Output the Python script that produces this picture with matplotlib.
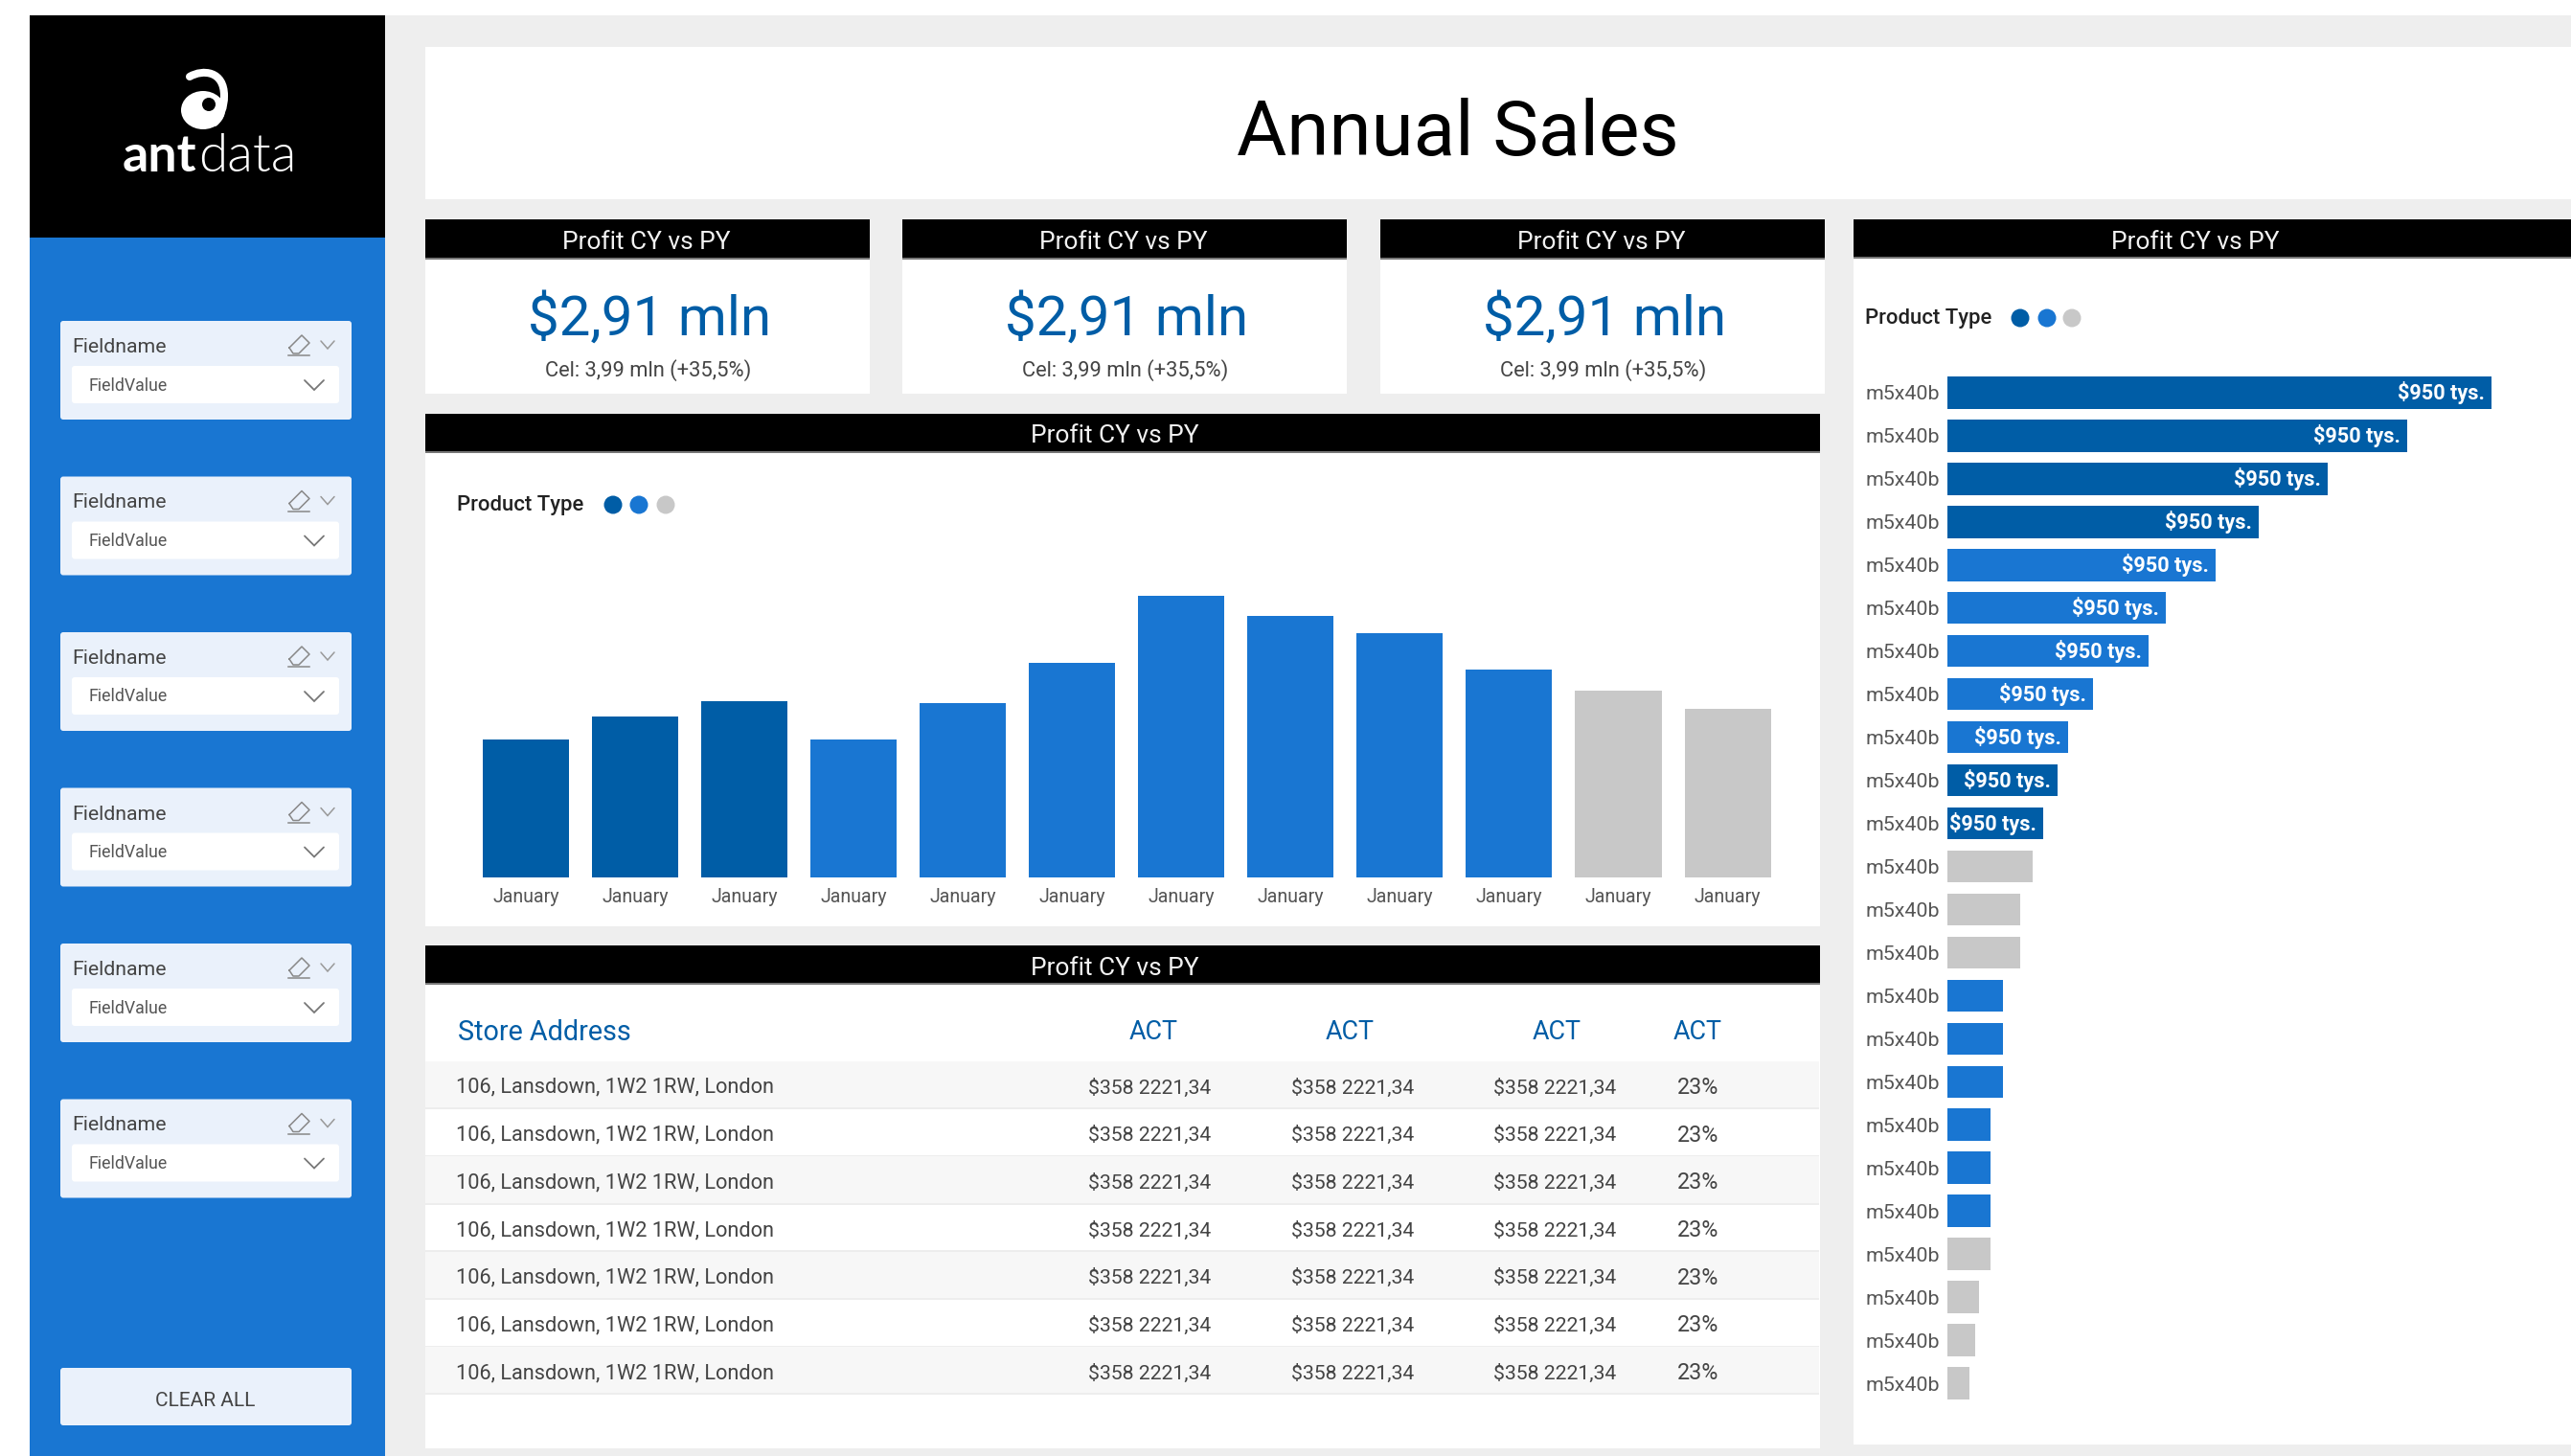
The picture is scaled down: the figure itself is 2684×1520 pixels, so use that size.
import matplotlib
matplotlib.use("Agg")
import matplotlib.pyplot as plt
from matplotlib.patches import Rectangle, FancyBboxPatch, Circle, Ellipse, PathPatch
from matplotlib.path import Path
from matplotlib.textpath import TextPath
from matplotlib.font_manager import FontProperties

# ---------- data ----------
title = "Annual Sales"
panel_title = "Profit CY vs PY"
kpi_value = "$2,91 mln"
kpi_target = "Cel: 3,99 mln (+35,5%)"
legend_title = "Product Type"
slicer_name = "Fieldname"
slicer_value = "FieldValue"

month_labels = ["January"] * 12
month_values = [144, 168, 184, 144, 182, 224, 294, 273, 255, 217, 195, 176]
month_types = ["A", "A", "A", "B", "B", "B", "B", "B", "B", "B", "C", "C"]

sku_labels = ["m5x40b"] * 24
sku_values = [568, 480, 397, 325, 280, 228, 210, 152, 126, 115, 100, 89,
              76, 76, 58, 58, 58, 45, 45, 45, 45, 33, 29, 23]
sku_types = ["A", "A", "A", "A", "B", "B", "B", "B", "B", "A", "A", "C",
             "C", "C", "B", "B", "B", "B", "B", "B", "C", "C", "C", "C"]
sku_value_labels = ["$950 tys."] * 11

table_columns = ["Store Address", "ACT", "ACT", "ACT", "ACT"]
table_address = ["106, Lansdown, 1W2 1RW, London"] * 7
table_act1 = ["$358 2221,34"] * 7
table_act2 = ["$358 2221,34"] * 7
table_act3 = ["$358 2221,34"] * 7
table_pct = ["23%"] * 7

# ---------- style ----------
W, H = 2684, 1520
DPI = 100
BLUE = "#1976D2"
DARK = "#005DA6"
GREY = "#C8C8C8"
BG = "#EEEEEE"
CARD = "#EAF1FB"
TYPE_COLORS = {"A": DARK, "B": BLUE, "C": GREY}
FONT = "Roboto"

plt.rcParams["font.family"] = [FONT, "DejaVu Sans"]


def fit(s, width_px, weight="normal", family=FONT):
    """Font size in points that makes s about width_px wide."""
    fp = FontProperties(family=family, weight=weight)
    w = TextPath((0, 0), s, size=100, prop=fp).get_extents().width
    return 100 * (width_px * 72 / DPI) / w


fig = plt.figure(figsize=(W / DPI, H / DPI), dpi=DPI, facecolor="white")
bg = fig.add_axes([0, 0, 1, 1])
bg.set_xlim(0, W)
bg.set_ylim(H, 0)
bg.axis("off")


def rect(x0, y0, x1, y1, color, z=1):
    bg.add_patch(Rectangle((x0, y0), x1 - x0, y1 - y0, fc=color, ec="none", zorder=z))


def rrect(x0, y0, x1, y1, color, r=3, z=3):
    bg.add_patch(FancyBboxPatch((x0, y0), x1 - x0, y1 - y0,
                                boxstyle=f"round,pad=0,rounding_size={r}",
                                fc=color, ec="none", zorder=z))


def txt(x, y, s, size, color="#333333", ha="center", va="center", weight="normal", **kw):
    bg.text(x, y + 2.5, s, fontsize=size, color=color, ha=ha, va=va, weight=weight, zorder=6, **kw)


def header(x0, x1, y0, y1, cx):
    rect(x0, y0, x1, y1, "black", z=2)
    rect(x0, y1 - 1.5, x1, y1 + 0.5, "#777777", z=2)
    txt(cx, (y0 + y1) / 2 + 1, panel_title, HEAD_SIZE, color="#F2F2F2")


def legend(xt, y, dots):
    txt(xt, y - 2, legend_title, LEG_SIZE, color="#222222", ha="left", weight="medium")
    for cx, k in zip(dots, ["A", "B", "C"]):
        bg.add_patch(Ellipse((cx, y), 19, 19, fc=TYPE_COLORS[k], ec="none", zorder=5))


def chevron(cx, cy, hw, hh, color="#777777", lw=1.3):
    bg.plot([cx - hw, cx, cx + hw], [cy - hh, cy + hh, cy - hh], color=color, lw=lw, zorder=6,
            solid_capstyle="round", solid_joinstyle="miter")


HEAD_SIZE = fit(panel_title, 173)
LEG_SIZE = fit(legend_title, 130, weight="medium")

# page background
rect(31, 16, W, H, BG, z=0)

# sidebar
rect(31, 16, 402, 248, "black")
rect(31, 248, 402, H, BLUE)

# logo
swirl = Path([(198, 80), (212, 72), (234, 74), (234, 100), (234, 112), (230, 122), (224, 128)],
             [Path.MOVETO, Path.CURVE4, Path.CURVE4, Path.CURVE4, Path.CURVE4, Path.CURVE4, Path.CURVE4])
bg.add_patch(PathPatch(swirl, fc="none", ec="white", lw=5.8, zorder=4, capstyle="round"))
bg.add_patch(Ellipse((212, 115), 46, 40, fc="white", ec="none", zorder=4))
bg.add_patch(Circle((218, 109), 7, fc="black", ec="none", zorder=5))
LOGO_SIZE = fit("ant", 76, "bold", "Lato")
bg.text(128, 179, "ant", family="Lato", weight="bold", fontsize=LOGO_SIZE,
        color="white", ha="left", va="baseline", zorder=6)
bg.text(207, 179, "data", family="Lato", weight=300, fontsize=fit("data", 95, 300, "Lato"),
        color="white", ha="left", va="baseline", zorder=6)

# slicers
NAME_SIZE = fit(slicer_name, 96)
VAL_SIZE = fit(slicer_value, 80)
for top in [335, 497.5, 660, 822.5, 985, 1147.5]:
    rrect(63, top, 367, top + 103, CARD)
    rrect(75, top + 47, 354, top + 86, "white", z=4)
    txt(75, top + 25, slicer_name, NAME_SIZE, color="#444444", ha="left")
    txt(92, top + 65, slicer_value, VAL_SIZE, color="#555555", ha="left")
    ex, ey = 312, top + 25
    bg.plot([ex - 10, ex + 3, ex + 11, ex, ex - 6, ex - 10],
            [ey + 3, ey - 10, ey - 2, ey + 9, ey + 9, ey + 3],
            color="#888888", lw=1.1, zorder=6)
    bg.plot([ex - 11, ex + 11], [ey + 11, ey + 11], color="#888888", lw=1.1, zorder=6)
    chevron(342, top + 25, 7, 4, color="#999999", lw=1.1)
    chevron(328, top + 67, 10, 5)
rrect(63, 1428, 367, 1488, CARD)
txt(214, 1460, "CLEAR ALL", fit("CLEAR ALL", 103), color="#444444")

# title panel
rect(444, 49, W, 208, "white")
txt(1522, 137.5, title, fit(title, 457), color="black")

# KPI cards
KPI_SIZE = fit(kpi_value, 247)
SUB_SIZE = fit(kpi_target, 213)
for x0, x1 in [(444, 908), (942, 1406), (1441, 1905)]:
    cx = (x0 + x1) / 2
    rect(x0, 270, x1, 411, "white")
    header(x0, x1, 229, 270, cx - 1)
    txt(cx + 2, 331, kpi_value, KPI_SIZE, color=DARK)
    txt(cx + 1, 384, kpi_target, SUB_SIZE, color="#444444")

# monthly chart panel
rect(444, 472, 1900, 967, "white")
header(444, 1900, 432, 472, 1164)
legend(477, 527, [640, 667, 695])

step = 114.05
ax1 = fig.add_axes([(549 - step / 2) / W, 1 - 916 / H, 12 * step / W, 356 / H])
ax1.set_xlim(-0.5, 11.5)
ax1.set_ylim(0, 356)
ax1.bar(range(12), month_values, width=0.79, color=[TYPE_COLORS[k] for k in month_types])
ax1.set_xticks(range(12), month_labels)
ax1.set_yticks([])
ax1.tick_params(axis="x", length=0, pad=8, labelsize=fit("January", 69), labelcolor="#555555")
ax1.patch.set_alpha(0)
for s in ax1.spines.values():
    s.set_visible(False)

# table panel
rect(444, 1027, 1900, 1512, "white")
header(444, 1900, 987, 1027, 1164)
ROW_H = 49.7
ROW_TOP = 1108
COL_X = [476, 1200, 1412, 1623, 1773]
HEAD_X = [478, 1204, 1409, 1625, 1772]
txt(HEAD_X[0], 1075, table_columns[0], fit(table_columns[0], 178), color=DARK, ha="left")
for x, s in zip(HEAD_X[1:], table_columns[1:]):
    txt(x, 1075, s, fit(s, 50), color=DARK)
ADDR_SIZE = fit(table_address[0], 330)
MONEY_SIZE = fit(table_act1[0], 127)
PCT_SIZE = fit(table_pct[0], 41)
for i in range(len(table_address)):
    y0 = ROW_TOP + i * ROW_H
    if i % 2 == 0:
        rect(444, y0, 1899, y0 + ROW_H, "#F7F7F7", z=2)
    rect(444, y0 + ROW_H - 1.5, 1899, y0 + ROW_H + 0.5, "#EDEDED", z=2)
    yc = y0 + ROW_H / 2
    txt(COL_X[0], yc, table_address[i], ADDR_SIZE, color="#444444", ha="left")
    txt(COL_X[1], yc, table_act1[i], MONEY_SIZE, color="#444444")
    txt(COL_X[2], yc, table_act2[i], MONEY_SIZE, color="#444444")
    txt(COL_X[3], yc, table_act3[i], MONEY_SIZE, color="#444444")
    txt(COL_X[4], yc, table_pct[i], PCT_SIZE, color="#444444")

# ranking panel
rect(1935, 269, W, 1508, "white")
header(1935, W, 229, 269, 2292)
legend(1947, 332, [2109, 2137, 2163])

row = 44.96
ax2 = fig.add_axes([2033 / W, 1 - (1444 + row / 2) / H, (W - 2033) / W, 24 * row / H])
ax2.set_xlim(0, W - 2033)
ax2.set_ylim(23.5, -0.5)
ax2.barh(range(24), sku_values, height=0.745, color=[TYPE_COLORS[k] for k in sku_types])
ax2.set_yticks(range(24), sku_labels)
ax2.set_xticks([])
ax2.tick_params(axis="y", length=0, pad=6, labelsize=fit("m5x40b", 75), labelcolor="#555555")
ax2.patch.set_alpha(0)
for s in ax2.spines.values():
    s.set_visible(False)
VAL_LABEL = fit(sku_value_labels[0], 88, weight="bold")
for i, s in enumerate(sku_value_labels):
    ax2.annotate(s, (sku_values[i], i), xytext=(-5, 0), textcoords="offset points",
                 ha="right", va="center", color="white", fontsize=VAL_LABEL, weight="bold")

fig.savefig("out.png", dpi=DPI, facecolor="white")
